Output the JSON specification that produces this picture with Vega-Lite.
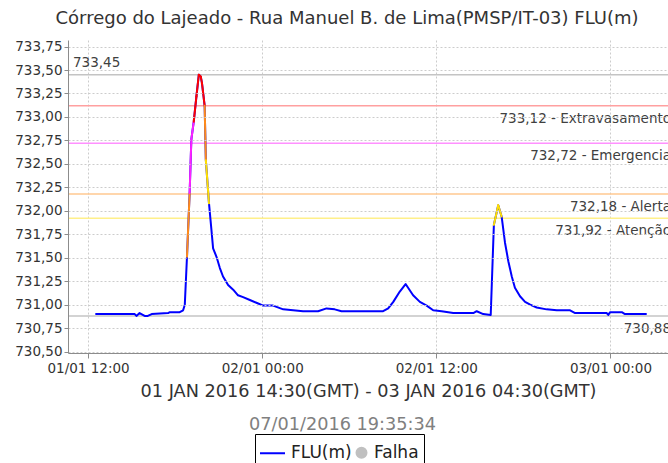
{
  "$schema": "https://vega.github.io/schema/vega-lite/v6.json",
  "autosize": "none",
  "width": 600,
  "height": 313,
  "padding": {"left": 68, "top": 40, "right": 0, "bottom": 110},
  "background": "white",
  "title": {"text": "Córrego do Lajeado - Rua Manuel B. de Lima(PMSP/IT-03) FLU(m)", "fontSize": 18, "fontWeight": "normal", "color": "#333333", "anchor": "middle", "frame": "group", "dx": -21, "offset": 12},
  "config": {
    "font": "DejaVu Sans",
    "view": {"stroke": null},
    "locale": {"number": {"decimal": ",", "thousands": ".", "grouping": [3], "currency": ["R$", ""]}}
  },
  "datasets": {
    "serie": [
      {"t": "2016-01-01T12:30:00Z", "v": 730.90},
      {"t": "2016-01-01T15:13:00Z", "v": 730.90},
      {"t": "2016-01-01T15:20:00Z", "v": 730.88},
      {"t": "2016-01-01T15:33:00Z", "v": 730.91},
      {"t": "2016-01-01T15:54:00Z", "v": 730.88},
      {"t": "2016-01-01T16:07:00Z", "v": 730.88},
      {"t": "2016-01-01T16:23:00Z", "v": 730.90},
      {"t": "2016-01-01T17:31:00Z", "v": 730.91},
      {"t": "2016-01-01T17:38:00Z", "v": 730.92},
      {"t": "2016-01-01T18:19:00Z", "v": 730.92},
      {"t": "2016-01-01T18:33:00Z", "v": 730.94},
      {"t": "2016-01-01T18:40:00Z", "v": 731.00},
      {"t": "2016-01-01T18:49:00Z", "v": 731.51},
      {"t": "2016-01-01T19:00:00Z", "v": 732.19},
      {"t": "2016-01-01T19:07:00Z", "v": 732.76},
      {"t": "2016-01-01T19:17:00Z", "v": 732.95},
      {"t": "2016-01-01T19:28:00Z", "v": 733.22},
      {"t": "2016-01-01T19:38:00Z", "v": 733.45},
      {"t": "2016-01-01T19:46:00Z", "v": 733.43},
      {"t": "2016-01-01T19:51:00Z", "v": 733.36},
      {"t": "2016-01-01T20:02:00Z", "v": 733.12},
      {"t": "2016-01-01T20:07:00Z", "v": 732.54},
      {"t": "2016-01-01T20:20:00Z", "v": 732.08},
      {"t": "2016-01-01T20:30:00Z", "v": 731.80},
      {"t": "2016-01-01T20:37:00Z", "v": 731.60},
      {"t": "2016-01-01T20:51:00Z", "v": 731.51},
      {"t": "2016-01-01T21:05:00Z", "v": 731.39},
      {"t": "2016-01-01T21:18:00Z", "v": 731.30},
      {"t": "2016-01-01T21:39:00Z", "v": 731.21},
      {"t": "2016-01-01T22:00:00Z", "v": 731.16},
      {"t": "2016-01-01T22:20:00Z", "v": 731.10},
      {"t": "2016-01-01T22:41:00Z", "v": 731.08},
      {"t": "2016-01-01T23:09:00Z", "v": 731.05},
      {"t": "2016-01-01T23:36:00Z", "v": 731.02},
      {"t": "2016-01-02T00:04:00Z", "v": 730.99},
      {"t": "2016-01-02T00:45:00Z", "v": 730.99},
      {"t": "2016-01-02T01:27:00Z", "v": 730.95},
      {"t": "2016-01-02T02:08:00Z", "v": 730.94},
      {"t": "2016-01-02T02:49:00Z", "v": 730.93},
      {"t": "2016-01-02T03:51:00Z", "v": 730.93},
      {"t": "2016-01-02T04:26:00Z", "v": 730.96},
      {"t": "2016-01-02T05:00:00Z", "v": 730.95},
      {"t": "2016-01-02T05:28:00Z", "v": 730.93},
      {"t": "2016-01-02T08:20:00Z", "v": 730.93},
      {"t": "2016-01-02T08:41:00Z", "v": 730.96},
      {"t": "2016-01-02T09:02:00Z", "v": 731.03},
      {"t": "2016-01-02T09:29:00Z", "v": 731.14},
      {"t": "2016-01-02T09:53:00Z", "v": 731.22},
      {"t": "2016-01-02T10:24:00Z", "v": 731.10},
      {"t": "2016-01-02T10:52:00Z", "v": 731.03},
      {"t": "2016-01-02T11:20:00Z", "v": 730.99},
      {"t": "2016-01-02T11:47:00Z", "v": 730.94},
      {"t": "2016-01-02T12:22:00Z", "v": 730.93},
      {"t": "2016-01-02T13:10:00Z", "v": 730.91},
      {"t": "2016-01-02T14:33:00Z", "v": 730.91},
      {"t": "2016-01-02T14:47:00Z", "v": 730.93},
      {"t": "2016-01-02T15:14:00Z", "v": 730.90},
      {"t": "2016-01-02T15:45:00Z", "v": 730.89},
      {"t": "2016-01-02T15:58:00Z", "v": 731.85},
      {"t": "2016-01-02T16:16:00Z", "v": 732.06},
      {"t": "2016-01-02T16:30:00Z", "v": 731.94},
      {"t": "2016-01-02T16:44:00Z", "v": 731.66},
      {"t": "2016-01-02T16:58:00Z", "v": 731.46},
      {"t": "2016-01-02T17:12:00Z", "v": 731.30},
      {"t": "2016-01-02T17:25:00Z", "v": 731.18},
      {"t": "2016-01-02T17:46:00Z", "v": 731.09},
      {"t": "2016-01-02T18:07:00Z", "v": 731.03},
      {"t": "2016-01-02T18:28:00Z", "v": 731.00},
      {"t": "2016-01-02T18:55:00Z", "v": 730.97},
      {"t": "2016-01-02T19:36:00Z", "v": 730.95},
      {"t": "2016-01-02T20:18:00Z", "v": 730.94},
      {"t": "2016-01-02T21:13:00Z", "v": 730.94},
      {"t": "2016-01-02T21:34:00Z", "v": 730.91},
      {"t": "2016-01-02T23:45:00Z", "v": 730.91},
      {"t": "2016-01-02T23:51:00Z", "v": 730.89},
      {"t": "2016-01-02T23:58:00Z", "v": 730.92},
      {"t": "2016-01-03T00:47:00Z", "v": 730.92},
      {"t": "2016-01-03T01:00:00Z", "v": 730.90},
      {"t": "2016-01-03T02:30:00Z", "v": 730.90}
    ],
    "limites": [
      {"v": 733.12, "nivel": "Extravasamento", "rotulo": "733,12 - Extravasamento"},
      {"v": 732.72, "nivel": "Emergencia", "rotulo": "732,72 - Emergencia"},
      {"v": 732.18, "nivel": "Alerta", "rotulo": "732,18 - Alerta"},
      {"v": 731.92, "nivel": "Atenção", "rotulo": "731,92 - Atenção"}
    ],
    "extremos": [
      {"v": 733.45, "tipo": "max", "rotulo": "733,45"},
      {"v": 730.88, "tipo": "min", "rotulo": "730,88"}
    ]
  },
  "resolve": {"scale": {"color": "independent"}, "axis": {"x": "independent", "y": "independent"}},
  "layer": [
    {
      "data": {"name": "limites"},
      "mark": {"type": "rule", "strokeWidth": 1.5},
      "encoding": {
        "y": {"field": "v", "type": "quantitative", "scale": {"domain": [730.485, 733.82], "nice": false, "zero": false}, "axis": null},
        "color": {"field": "nivel", "type": "nominal", "legend": null,
          "scale": {"domain": ["Extravasamento", "Emergencia", "Alerta", "Atenção"], "range": ["#ffa0a0", "#ff90ff", "#ffc890", "#fff08a"]}}
      }
    },
    {
      "data": {"name": "extremos"},
      "mark": {"type": "rule", "strokeWidth": 1.5, "color": "#c4c4c4"},
      "encoding": {
        "y": {"field": "v", "type": "quantitative", "scale": {"domain": [730.485, 733.82], "nice": false, "zero": false}, "axis": null}
      }
    },
    {
      "data": {"name": "serie", "format": {"parse": {"t": "date"}}},
      "mark": {"type": "line", "strokeWidth": 2, "strokeJoin": "round"},
      "encoding": {
        "x": {"field": "t", "type": "temporal",
          "scale": {"type": "utc", "nice": false, "domain": [{"year": 2016, "month": 1, "date": 1, "hours": 10, "minutes": 37, "utc": true}, {"year": 2016, "month": 1, "date": 3, "hours": 3, "minutes": 58, "utc": true}]},
          "axis": {
            "values": [{"year": 2016, "month": 1, "date": 1, "hours": 12, "utc": true}, {"year": 2016, "month": 1, "date": 2, "hours": 0, "utc": true}, {"year": 2016, "month": 1, "date": 2, "hours": 12, "utc": true}, {"year": 2016, "month": 1, "date": 3, "hours": 0, "utc": true}],
            "format": "%d/%m %H:%M",
            "title": "01 JAN 2016 14:30(GMT) - 03 JAN 2016 04:30(GMT)",
            "titleFontSize": 17.7, "titleFontWeight": "normal", "titleColor": "#333333", "titlePadding": 8,
            "labelFontSize": 13.5, "labelColor": "#333333", "labelPadding": 3, "labelFlush": false, "labelOverlap": false,
            "tickColor": "#8c8c8c", "tickSize": 5,
            "domain": true, "domainColor": "#8c8c8c", "domainWidth": 1,
            "grid": true, "gridColor": "#cccccc", "gridDash": [2, 2]
          }},
        "y": {"field": "v", "type": "quantitative",
          "scale": {"domain": [730.485, 733.82], "nice": false, "zero": false},
          "axis": {
            "orient": "left", "zindex": 1,
            "values": [730.5, 730.75, 731, 731.25, 731.5, 731.75, 732, 732.25, 732.5, 732.75, 733, 733.25, 733.5, 733.75],
            "format": ".2f", "title": null, "labelOverlap": false,
            "labelFontSize": 13.5, "labelColor": "#333333", "labelPadding": 2,
            "ticks": true, "tickColor": "#8c8c8c", "tickSize": 4,
            "domain": true, "domainColor": "#8c8c8c", "domainWidth": 1, "domainOpacity": 1,
            "grid": true, "gridColor": "#cccccc", "gridDash": [2, 2], "gridWidth": 1, "gridOpacity": 1
          }},
        "color": {"datum": "FLU(m)",
          "scale": {"domain": ["FLU(m)", "Falha"], "range": ["#0000ff", "#c0c0c0"]},
          "legend": {
            "orient": "none", "legendX": 187, "legendY": 394, "direction": "horizontal", "title": null,
            "strokeColor": "#000000", "fillColor": "#ffffff", "padding": 5,
            "labelFontSize": 17, "labelFont": "DejaVu Sans", "labelColor": "#222222", "labelOffset": 4,
            "symbolType": "stroke", "symbolSize": 625, "symbolStrokeWidth": 2, "columnPadding": 0,
            "encode": {
              "symbols": {"update": {
                "shape": {"signal": "datum.value === 'Falha' ? 'circle' : 'stroke'"},
                "size": {"signal": "datum.value === 'Falha' ? 100 : 625"},
                "x": {"signal": "datum.value === 'Falha' ? 8.5 : 12.5"},
                "fill": {"signal": "datum.value === 'Falha' ? '#c0c0c0' : 'transparent'"},
                "stroke": {"signal": "datum.value === 'Falha' ? '#c0c0c0' : '#0000ff'"}
              }},
              "labels": {"update": {
                "dx": {"signal": "datum.value === 'Falha' ? -10 : 0"}
              }}
            }
          }}
      }
    },
    {
      "data": {"name": "serie", "format": {"parse": {"t": "date"}}},
      "transform": [
        {"window": [{"op": "lag", "field": "t", "as": "t0"}, {"op": "lag", "field": "v", "as": "v0"}], "sort": [{"field": "t"}]},
        {"filter": "datum.v >= 731.92 && datum.t0 != null"}
      ],
      "mark": {"type": "rule", "strokeWidth": 2, "strokeCap": "round"},
      "encoding": {
        "x": {"field": "t0", "type": "temporal",
          "scale": {"type": "utc", "nice": false, "domain": [{"year": 2016, "month": 1, "date": 1, "hours": 10, "minutes": 37, "utc": true}, {"year": 2016, "month": 1, "date": 3, "hours": 3, "minutes": 58, "utc": true}]},
          "axis": {"orient": "bottom", "title": "07/01/2016 19:35:34", "labels": false, "ticks": false, "domain": false, "grid": false,
            "titleColor": "#808080", "titleFontSize": 17.7, "titleFontWeight": "normal", "titlePadding": 62, "titleX": 274}},
        "x2": {"field": "t"},
        "y": {"field": "v0", "type": "quantitative", "scale": {"domain": [730.485, 733.82], "nice": false, "zero": false}, "axis": null},
        "y2": {"field": "v"},
        "color": {"field": "v", "type": "quantitative", "legend": null,
          "scale": {"type": "threshold", "domain": [731.92, 732.18, 732.72, 733.12], "range": ["#0000ff", "#ffe000", "#ff8c1a", "#ff22ff", "#ff0000"]}}
      }
    },
    {
      "data": {"name": "limites"},
      "mark": {"type": "text", "align": "right", "baseline": "alphabetic", "dx": 3, "dy": 17, "fontSize": 13.5, "color": "#404040"},
      "encoding": {
        "x": {"value": "width"},
        "y": {"field": "v", "type": "quantitative", "scale": {"domain": [730.485, 733.82], "nice": false, "zero": false}, "axis": null},
        "text": {"field": "rotulo"}
      }
    },
    {
      "data": {"name": "extremos"},
      "transform": [{"filter": "datum.tipo === 'max'"}],
      "mark": {"type": "text", "align": "left", "baseline": "alphabetic", "dx": 5, "dy": -8, "fontSize": 13.5, "color": "#404040"},
      "encoding": {
        "x": {"value": 0},
        "y": {"field": "v", "type": "quantitative", "scale": {"domain": [730.485, 733.82], "nice": false, "zero": false}, "axis": null},
        "text": {"field": "rotulo"}
      }
    },
    {
      "data": {"name": "extremos"},
      "transform": [{"filter": "datum.tipo === 'min'"}],
      "mark": {"type": "text", "align": "right", "baseline": "alphabetic", "dx": 3, "dy": 17, "fontSize": 13.5, "color": "#404040"},
      "encoding": {
        "x": {"value": "width"},
        "y": {"field": "v", "type": "quantitative", "scale": {"domain": [730.485, 733.82], "nice": false, "zero": false}, "axis": null},
        "text": {"field": "rotulo"}
      }
    }
  ]
}
